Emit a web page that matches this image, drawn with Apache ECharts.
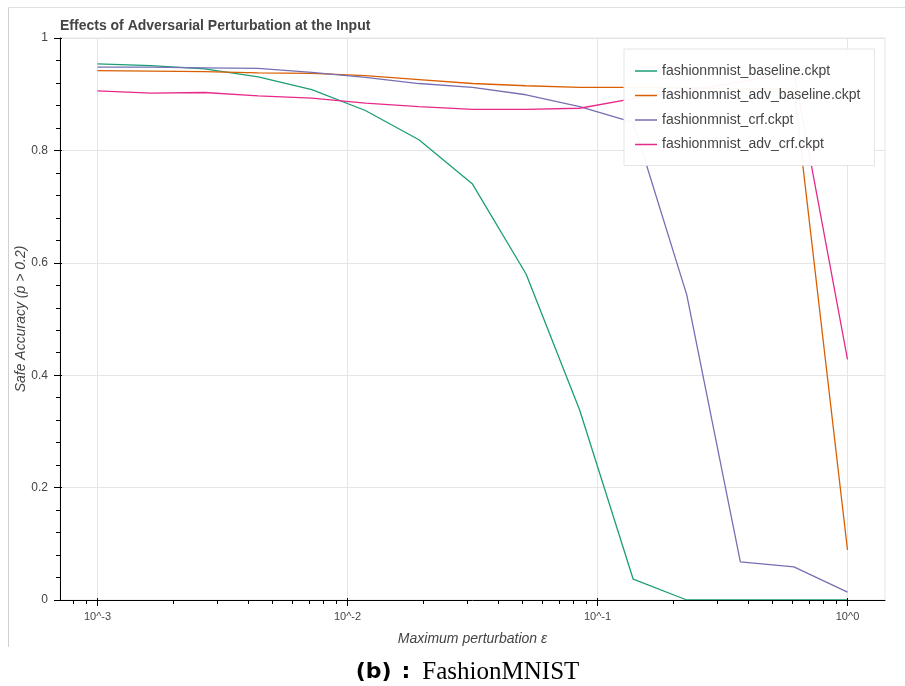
<!DOCTYPE html>
<html>
<head>
<meta charset="utf-8">
<script src="https://cdn.jsdelivr.net/npm/echarts@6/dist/echarts.min.js"></script>
<style>
  html, body { margin: 0; padding: 0; background: #ffffff; }
  #chart { width: 905px; height: 686px; }
</style>
</head>
<body>
<div id="chart"></div>
<script>
// Perturbation budgets (log-spaced from 1e-3 to 1)
const epsilons = [0.001, 0.0016379, 0.0026827, 0.0043940, 0.0071969, 0.011788, 0.019307,
  0.031623, 0.051795, 0.084834, 0.13895, 0.22758, 0.37276, 0.61054, 1.0];

// Safe accuracy per checkpoint
const baseline    = [0.954, 0.951, 0.945, 0.931, 0.908, 0.871, 0.819, 0.740, 0.580, 0.338, 0.037, 0.0, 0.0, 0.0, 0.0];
const advBaseline = [0.942, 0.941, 0.940, 0.938, 0.937, 0.933, 0.926, 0.919, 0.915, 0.912, 0.912, 0.911, 0.910, 0.910, 0.089];
const crf         = [0.948, 0.948, 0.947, 0.946, 0.939, 0.930, 0.919, 0.912, 0.899, 0.878, 0.850, 0.543, 0.068, 0.059, 0.014];
const advCrf      = [0.906, 0.902, 0.903, 0.897, 0.893, 0.884, 0.878, 0.873, 0.873, 0.875, 0.892, 0.906, 0.922, 0.940, 0.428];

const seriesNames = ['fashionmnist_baseline.ckpt', 'fashionmnist_adv_baseline.ckpt',
  'fashionmnist_crf.ckpt', 'fashionmnist_adv_crf.ckpt'];
const seriesValues = [baseline, advBaseline, crf, advCrf];
const seriesColors = ['#1b9e77', '#d95f02', '#7570b3', '#e7298a'];

// Log-axis ticks
const majorTicks = [0.001, 0.01, 0.1, 1];
const minorTicks = [0.0008, 0.0009,
  0.002, 0.003, 0.004, 0.005, 0.006, 0.007, 0.008, 0.009,
  0.02, 0.03, 0.04, 0.05, 0.06, 0.07, 0.08, 0.09,
  0.2, 0.3, 0.4, 0.5, 0.6, 0.7, 0.8, 0.9];

const FONT = '"Liberation Sans", Helvetica, Arial, sans-serif';
const X_MIN = 0.000708, X_MAX = 1.4125;

function xAxisBase(extra) {
  return Object.assign({
    type: 'log', logBase: 10, min: X_MIN, max: X_MAX, position: 'bottom', gridIndex: 0,
    axisLine: { show: false, onZero: false },
    axisTick: { show: false },
    axisLabel: { show: false },
    splitLine: { show: false }
  }, extra);
}

function yAxisBase(extra) {
  return Object.assign({
    type: 'value', min: 0, max: 1, interval: 0.2, position: 'left', gridIndex: 0,
    axisLine: { show: false, onZero: false },
    axisTick: { show: false },
    axisLabel: { show: false },
    splitLine: { show: false }
  }, extra);
}

const chart = echarts.init(document.getElementById('chart'), null, { renderer: 'canvas' });

chart.setOption({
  animation: false,
  backgroundColor: '#ffffff',
  title: {
    text: 'Effects of Adversarial Perturbation at the Input',
    left: 60, top: 19, padding: 0,
    textStyle: { fontFamily: FONT, fontSize: 14, fontWeight: 'bold', color: '#444444' }
  },
  grid: {
    left: 60, top: 38, right: 20, bottom: 86,
    show: true, borderColor: '#e5e5e5', borderWidth: 1, backgroundColor: 'transparent',
    outerBoundsMode: 'none'
  },
  legend: {
    orient: 'vertical', left: 624, top: 49,
    padding: [15, 14, 14, 11], itemGap: 10.5,
    itemWidth: 22, itemHeight: 1.5, icon: 'rect',
    backgroundColor: 'rgba(255,255,255,0.95)', borderColor: '#e5e5e5', borderWidth: 1,
    textStyle: { fontFamily: FONT, fontSize: 14, color: '#444444', lineHeight: 14 },
    data: seriesNames
  },
  xAxis: [
    // grid lines at each decade
    xAxisBase({
      z: 0,
      axisTick: { show: false, customValues: majorTicks },
      splitLine: { show: true, lineStyle: { color: '#e5e5e5', width: 1 } },
      name: 'Maximum perturbation ε', nameLocation: 'middle', nameGap: 32,
      nameTextStyle: { fontFamily: FONT, fontSize: 14, fontStyle: 'italic', color: '#444444' }
    }),
    // axis line, major ticks and labels
    xAxisBase({
      z: 3,
      axisLine: { show: true, onZero: false, lineStyle: { color: '#000000', width: 1 } },
      axisTick: { show: true, length: 6, customValues: majorTicks, lineStyle: { color: '#000000' } },
      axisLabel: {
        show: true, customValues: majorTicks, margin: 11,
        fontFamily: FONT, fontSize: 11, color: '#444444',
        formatter: v => '10^' + Math.round(Math.log10(v))
      }
    }),
    // minor ticks
    xAxisBase({
      z: 3,
      axisTick: { show: true, length: 4, customValues: minorTicks, lineStyle: { color: '#000000' } }
    }),
    // inner part of major ticks
    xAxisBase({
      z: 3,
      axisTick: { show: true, inside: true, length: 2, customValues: majorTicks, lineStyle: { color: '#000000' } }
    })
  ],
  yAxis: [
    yAxisBase({
      z: 0,
      splitLine: { show: true, lineStyle: { color: '#e5e5e5', width: 1 } }
    }),
    yAxisBase({
      z: 3,
      axisLine: { show: true, onZero: false, lineStyle: { color: '#000000', width: 1 } },
      axisTick: { show: true, length: 6, lineStyle: { color: '#000000' } },
      minorTick: { show: true, splitNumber: 5, length: 4, lineStyle: { color: '#000000' } },
      axisLabel: { show: true, margin: 12, fontFamily: FONT, fontSize: 12, color: '#444444' },
      name: 'Safe Accuracy (p > 0.2)', nameLocation: 'middle', nameGap: 32, nameMoveOverlap: false,
      nameTextStyle: { fontFamily: FONT, fontSize: 14, fontStyle: 'italic', color: '#444444' }
    }),
    yAxisBase({
      z: 3,
      axisTick: { show: true, inside: true, length: 2, lineStyle: { color: '#000000' } }
    })
  ],
  series: seriesNames.map((name, i) => ({
    name: name,
    type: 'line',
    xAxisIndex: 0,
    yAxisIndex: 0,
    symbol: 'none',
    color: seriesColors[i],
    lineStyle: { color: seriesColors[i], width: 1.3 },
    data: epsilons.map((e, k) => [e, seriesValues[i][k]]),
    z: 2
  })),
  graphic: [
    // notebook output frame
    { type: 'line', shape: { x1: 8.5, y1: 7.5, x2: 8.5, y2: 647 }, style: { stroke: '#d0d0d0', lineWidth: 1 }, silent: true },
    { type: 'line', shape: { x1: 8.5, y1: 7.5, x2: 905, y2: 7.5 }, style: { stroke: '#e0e0e0', lineWidth: 1 }, silent: true },
    {
      type: 'text', x: 467.5, y: 672, silent: true,
      style: {
        text: '{b|(b)}{c|:}{s|FashionMNIST}',
        textAlign: 'center', textVerticalAlign: 'middle', align: 'center', verticalAlign: 'middle',
        fill: '#000000',
        rich: {
          b: { fontFamily: '"DejaVu Sans", sans-serif', fontSize: 22, fontWeight: 'bold', fill: '#000000', color: '#000000' },
          c: { fontFamily: '"DejaVu Sans", sans-serif', fontSize: 22, fontWeight: 'bold', fill: '#000000', color: '#000000', padding: [0, 12, 0, 10] },
          s: { fontFamily: '"Liberation Serif", "DejaVu Serif", serif', fontSize: 25, fill: '#000000', color: '#000000' }
        }
      }
    }
  ]
});
</script>
</body>
</html>
